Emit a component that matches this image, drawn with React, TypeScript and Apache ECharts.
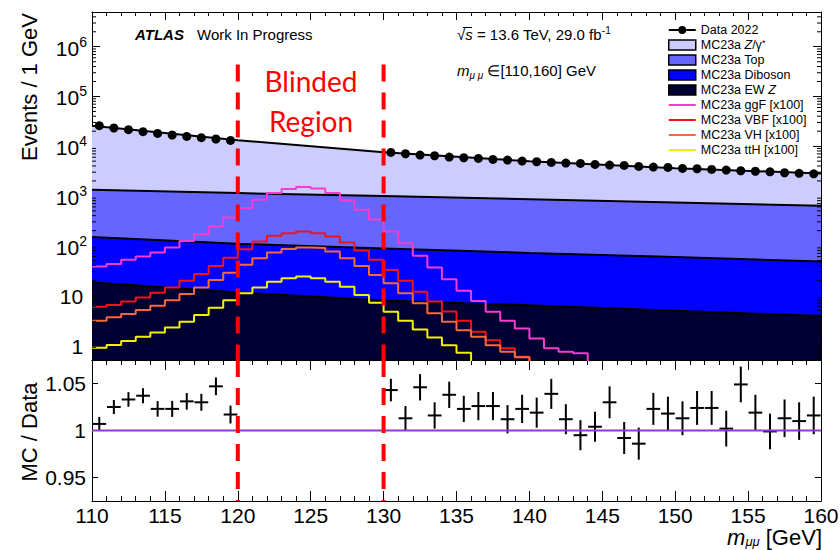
import React, { useEffect, useRef } from 'react';
import * as echarts from 'echarts';

const FONT = '"Liberation Sans", Arial, Helvetica, sans-serif';

// ---- stacked backgrounds (values at mass nodes, events / 1 GeV) ----
const mcMass = [110, 120, 130, 140, 150, 160];
const mcEWZ = [18.4, 11.4, 7.9, 6.3, 4.9, 3.85];
const mcDiboson = [130, 97, 80, 65, 54, 44];
const mcTop = [1180, 1030, 903, 784, 679, 585];
const mcZgamma = [24500, 12040, 6560, 4125, 2865, 2200];

// ---- signals x100, 1 GeV bins starting at 110 GeV ----
const histStart = 110;
const ggF = [37.9, 42.8, 51.7, 60.4, 72.7, 91.7, 124, 169, 242, 367, 570, 840, 1147, 1382, 1518, 1402, 1147, 812, 527, 334, 193, 112, 62.3, 36.1, 21.0, 12.3, 7.72, 4.69, 3.08, 2.16, 1.36, 0.86, 0.73, 0.68, 0.3];
const vbf = [5.9, 6.4, 7.5, 9.0, 11.3, 14.4, 19.6, 26.9, 39.1, 56.7, 84.9, 121, 158, 178, 192, 178, 153, 115, 79.7, 51.7, 32.4, 19.6, 11.8, 7.5, 4.7, 3.08, 1.85, 1.25, 0.86, 0.58, 0.3];
const vh = [3.08, 3.61, 4.21, 5.07, 6.19, 8.0, 10.6, 14.4, 20.3, 28.6, 41.0, 55.9, 72.7, 85.0, 91.7, 89.0, 76.0, 55.9, 39.1, 25.6, 17.4, 11.0, 6.9, 4.35, 2.93, 1.99, 1.46, 0.99, 0.73, 0.565, 0.3];
const tth = [0.88, 1.0, 1.21, 1.46, 1.79, 2.26, 2.93, 4.02, 5.64, 8.0, 11.0, 14.4, 18.8, 22.1, 23.8, 22.1, 18.8, 14.9, 10.2, 7.1, 4.69, 3.08, 2.06, 1.42, 0.99, 0.70, 0.3];

// ---- data (bin centres outside the blinded region) ----
const dataMass = [110.5, 111.5, 112.5, 113.5, 114.5, 115.5, 116.5, 117.5, 118.5, 119.5,
  130.5, 131.5, 132.5, 133.5, 134.5, 135.5, 136.5, 137.5, 138.5, 139.5,
  140.5, 141.5, 142.5, 143.5, 144.5, 145.5, 146.5, 147.5, 148.5, 149.5,
  150.5, 151.5, 152.5, 153.5, 154.5, 155.5, 156.5, 157.5, 158.5, 159.5];
const dataEvents = [25800, 23200, 21450, 19540, 18070, 16790, 15710, 14790, 13930, 13060,
  7480, 7045, 6635, 6425, 6045, 5850, 5665, 5410, 5260, 5025,
  4865, 4710, 4580, 4500, 4290, 4170, 4095, 3910, 3800, 3735,
  3565, 3515, 3405, 3310, 3205, 3130, 3055, 2920, 2850, 2785];
const ratioValues = [1.007, 1.025, 1.033, 1.037, 1.023, 1.023, 1.031, 1.030, 1.047, 1.017,
  1.043, 1.013, 1.046, 1.016, 1.038, 1.023, 1.026, 1.026, 1.012, 1.023,
  1.019, 1.039, 1.012, 0.995, 1.004, 1.030, 0.992, 0.986, 1.023, 1.018,
  1.013, 1.024, 1.024, 1.002, 1.049, 1.019, 0.999, 1.013, 1.010, 1.016];
const ratioErrors = [0.0075, 0.0075, 0.0078, 0.008, 0.0083, 0.0085, 0.0088, 0.009, 0.0095, 0.0095,
  0.012, 0.013, 0.014, 0.014, 0.014, 0.014, 0.015, 0.015, 0.015, 0.015,
  0.016, 0.016, 0.016, 0.016, 0.016, 0.017, 0.017, 0.017, 0.017, 0.018,
  0.018, 0.018, 0.018, 0.019, 0.019, 0.019, 0.019, 0.02, 0.02, 0.02];

const blindEdges = [120, 130];
const xTicks = { min: 110, max: 160, interval: 5 };
const yTop = { min: 0.5, max: 5e6 };
const yRatio = { min: 0.925, max: 1.075 };

const C = {
  zg: '#ccccff', top: '#6666ff', dib: '#0000ff', ewz: '#000033',
  ggf: '#f53cd0', vbf: '#f01414', vh: '#f56a3c', tth: '#f2f200',
  ratio: '#9b30d6', blind: '#ff0000',
};

function buildOption() {
  const cum1 = mcEWZ.slice();
  const cum2 = cum1.map((v, i) => v + mcDiboson[i]);
  const cum3 = cum2.map((v, i) => v + mcTop[i]);
  const cum4 = cum3.map((v, i) => v + mcZgamma[i]);
  const nodes = (arr: number[]) => mcMass.map((m, i) => [m, arr[i]]);
  const steps = (vals: number[]) => {
    const pts = vals.map((v, i) => [histStart + i, v]);
    pts.push([histStart + vals.length, vals[vals.length - 1]]);
    return pts;
  };

  const logMinor: number[] = [];
  for (let e = -1; e <= 6; e++) {
    for (let m = 2; m <= 9; m++) {
      const v = m * Math.pow(10, e);
      if (v > yTop.min && v < yTop.max) logMinor.push(v);
    }
  }

  const line = { color: '#000', width: 1 };
  const xAxisBase = (grid: number, pos: string, labels: boolean, major: number, minor: number) => ({
    type: 'value', gridIndex: grid, position: pos, ...xTicks,
    axisLine: { show: true, onZero: false, lineStyle: line },
    axisTick: { show: true, inside: true, length: major, lineStyle: line },
    minorTick: { show: true, splitNumber: 5, length: minor, lineStyle: line },
    splitLine: { show: false },
    axisLabel: labels ? { show: true, margin: 4, color: '#000', fontFamily: FONT, fontSize: 21, lineHeight: 21 } : { show: false },
  });

  const richLabel = {
    b: { fontSize: 21, lineHeight: 24, verticalAlign: 'bottom', fontFamily: FONT, color: '#000' },
    s: { fontSize: 14, lineHeight: 14, verticalAlign: 'top', fontFamily: FONT, color: '#000' },
    p: { fontSize: 14, fontFamily: FONT },
  };

  const areaSeries = (name: string, arr: number[], color: string) => ({
    name, type: 'line', xAxisIndex: 0, yAxisIndex: 0, data: nodes(arr), symbol: 'none',
    lineStyle: { color: '#000', width: 2 }, itemStyle: { color },
    areaStyle: { color, opacity: 1, origin: 'start' }, silent: true,
  });
  const sigSeries = (name: string, vals: number[], color: string) => ({
    name, type: 'line', xAxisIndex: 0, yAxisIndex: 0, data: steps(vals), step: 'end', symbol: 'none',
    lineStyle: { color, width: 2 }, itemStyle: { color }, silent: true,
  });

  const lineIcon = 'path://M0,0L0.01,0M27,10L26.99,10M0,4L27,4L27,6L0,6Z';
  const dataIcon = 'path://M0,0L0.01,0M27,10L26.99,10M0,4.1L9.6,4.1L9.6,5.9L0,5.9ZM17.4,4.1L27,4.1L27,5.9L17.4,5.9ZM9.6,5A3.9,3.9,0,1,1,17.4,5A3.9,3.9,0,1,1,9.6,5Z';
  const LFS = 12.5;
  const legRich = {
    n: { fontSize: LFS, lineHeight: 14, fontFamily: FONT, color: '#000' },
    i: { fontSize: LFS, lineHeight: 14, fontFamily: FONT, fontStyle: 'italic', color: '#000' },
    sup: { fontSize: 9, lineHeight: 10, verticalAlign: 'top', fontFamily: FONT, color: '#000' },
  };

  const series: any[] = [
    areaSeries('MC23a Z/γ*', cum4, C.zg),
    areaSeries('MC23a Top', cum3, C.top),
    areaSeries('MC23a Diboson', cum2, C.dib),
    areaSeries('MC23a EW Z', cum1, C.ewz),
    sigSeries('MC23a ggF [x100]', ggF, C.ggf),
    sigSeries('MC23a VBF [x100]', vbf, C.vbf),
    sigSeries('MC23a VH [x100]', vh, C.vh),
    sigSeries('MC23a ttH [x100]', tth, C.tth),
    {
      name: 'Data 2022', type: 'scatter', xAxisIndex: 0, yAxisIndex: 0, symbol: 'circle', symbolSize: 9, z: 5,
      itemStyle: { color: '#000', opacity: 1 }, data: dataMass.map((m, i) => [m, dataEvents[i]]), silent: true,
    },
    {
      name: 'logMinorTicks', type: 'custom', xAxisIndex: 0, yAxisIndex: 0, silent: true, z: 6,
      data: logMinor.map((v) => [xTicks.min, v]),
      renderItem: (_p: any, api: any) => {
        const v = api.value(1);
        const l = api.coord([xTicks.min, v]);
        const r = api.coord([xTicks.max, v]);
        return {
          type: 'group', children: [
            { type: 'line', shape: { x1: l[0], y1: l[1], x2: l[0] + 4, y2: l[1] }, style: { stroke: '#000', lineWidth: 1 } },
            { type: 'line', shape: { x1: r[0] - 4, y1: r[1], x2: r[0], y2: r[1] }, style: { stroke: '#000', lineWidth: 1 } },
          ],
        };
      },
    },
    {
      name: 'unity', type: 'line', xAxisIndex: 2, yAxisIndex: 2, symbol: 'none', silent: true,
      data: [[xTicks.min, 1], [xTicks.max, 1]], lineStyle: { color: C.ratio, width: 2 },
    },
    {
      name: 'MC / Data', type: 'custom', xAxisIndex: 2, yAxisIndex: 2, silent: true,
      data: dataMass.map((m, i) => [m, ratioValues[i], ratioErrors[i]]),
      encode: { x: 0, y: 1 },
      renderItem: (_p: any, api: any) => {
        const x = api.value(0), y = api.value(1), e = api.value(2);
        const t = api.coord([x, y + e]);
        const b = api.coord([x, y - e]);
        const l = api.coord([x - 0.47, y]);
        const r = api.coord([x + 0.47, y]);
        const st = { stroke: '#000', lineWidth: 2 };
        return {
          type: 'group', children: [
            { type: 'line', shape: { x1: t[0], y1: t[1], x2: b[0], y2: b[1] }, style: st },
            { type: 'line', shape: { x1: l[0], y1: l[1], x2: r[0], y2: r[1] }, style: st },
          ],
        };
      },
    },
  ];
  blindEdges.forEach((edge) => {
    series.push({
      name: 'blind-top-' + edge, type: 'line', xAxisIndex: 0, yAxisIndex: 0, symbol: 'none', silent: true, z: 10,
      data: [[edge, 4.4e5], [edge, yTop.min]], lineStyle: { color: C.blind, width: 4, type: [17, 11] },
    });
    series.push({
      name: 'blind-ratio-' + edge, type: 'line', xAxisIndex: 2, yAxisIndex: 2, symbol: 'none', silent: true, z: 10,
      data: [[edge, yRatio.max], [edge, yRatio.min]], lineStyle: { color: C.blind, width: 4, type: [17, 11] },
    });
  });

  return {
    animation: false,
    backgroundColor: '#fff',
    textStyle: { fontFamily: FONT },
    grid: [
      { left: 92, right: 19, top: 12, height: 348, containLabel: false, outerBoundsMode: 'none' },
      { left: 92, right: 19, top: 360, height: 141, containLabel: false, outerBoundsMode: 'none' },
    ],
    xAxis: [
      xAxisBase(0, 'bottom', false, 8, 4),
      xAxisBase(0, 'top', false, 8, 4),
      xAxisBase(1, 'bottom', true, 10, 5),
      xAxisBase(1, 'top', false, 10, 5),
    ],
    yAxis: [
      {
        type: 'log', logBase: 10, gridIndex: 0, position: 'left', ...yTop,
        axisLine: { show: true, onZero: false, lineStyle: line },
        axisTick: { show: true, inside: true, length: 8, lineStyle: line },
        minorTick: { show: false }, splitLine: { show: false },
        axisLabel: {
          show: true, margin: 5, color: '#000', fontFamily: FONT, fontSize: 21, rich: richLabel,
          formatter: (v: number) => {
            const lg = Math.log10(v);
            const e = Math.round(lg);
            if (Math.abs(lg - e) > 1e-6) return '';
            if (e === 0) return '{b|1}{p| }';
            if (e === 1) return '{b|10}{p| }';
            return '{b|10}{s|' + e + '}';
          },
        },
      },
      {
        type: 'log', logBase: 10, gridIndex: 0, position: 'right', ...yTop,
        axisLine: { show: true, onZero: false, lineStyle: line },
        axisTick: { show: true, inside: true, length: 8, lineStyle: line },
        minorTick: { show: false }, splitLine: { show: false }, axisLabel: { show: false },
      },
      {
        type: 'value', gridIndex: 1, position: 'left', ...yRatio, splitNumber: 3,
        axisLine: { show: true, onZero: false, lineStyle: line },
        axisTick: { show: true, inside: true, length: 6, lineStyle: line },
        splitLine: { show: false },
        axisLabel: {
          show: true, margin: 6, color: '#000', fontFamily: FONT, fontSize: 21,
          formatter: (v: number) => {
            if (Math.abs(v - 0.95) < 1e-9) return '0.95';
            if (Math.abs(v - 1) < 1e-9) return '1';
            if (Math.abs(v - 1.05) < 1e-9) return '1.05';
            return '';
          },
        },
      },
      {
        type: 'value', gridIndex: 1, position: 'right', ...yRatio, splitNumber: 3,
        axisLine: { show: true, onZero: false, lineStyle: line },
        axisTick: { show: true, inside: true, length: 6, lineStyle: line },
        splitLine: { show: false }, axisLabel: { show: false },
      },
    ],
    legend: {
      orient: 'vertical', left: 668, top: 23, padding: 0, itemWidth: 27, itemHeight: 10, itemGap: 1,
      selectedMode: false,
      textStyle: { fontSize: LFS, lineHeight: 14, color: '#000', fontFamily: FONT, rich: legRich },
      formatter: (name: string) => {
        if (name === 'MC23a Z/γ*') return '{n|MC23a }{i|Z}{n|/γ}{sup|*}';
        if (name === 'MC23a EW Z') return '{n|MC23a EW }{i|Z}';
        return '{n|' + name + '}';
      },
      data: [
        { name: 'Data 2022', icon: dataIcon, itemStyle: { color: '#000', borderWidth: 0 } },
        { name: 'MC23a Z/γ*', icon: 'rect', itemStyle: { color: C.zg, borderColor: '#000', borderWidth: 1.5 } },
        { name: 'MC23a Top', icon: 'rect', itemStyle: { color: C.top, borderColor: '#000', borderWidth: 1.5 } },
        { name: 'MC23a Diboson', icon: 'rect', itemStyle: { color: C.dib, borderColor: '#000', borderWidth: 1.5 } },
        { name: 'MC23a EW Z', icon: 'rect', itemStyle: { color: C.ewz, borderColor: '#000', borderWidth: 1.5 } },
        { name: 'MC23a ggF [x100]', icon: lineIcon, itemStyle: { color: C.ggf, borderWidth: 0 } },
        { name: 'MC23a VBF [x100]', icon: lineIcon, itemStyle: { color: C.vbf, borderWidth: 0 } },
        { name: 'MC23a VH [x100]', icon: lineIcon, itemStyle: { color: C.vh, borderWidth: 0 } },
        { name: 'MC23a ttH [x100]', icon: lineIcon, itemStyle: { color: C.tth, borderWidth: 0 } },
      ],
    },
    graphic: [
      { type: 'text', x: 135, y: 34.5, style: { text: 'ATLAS', fontFamily: FONT, fontSize: 15, fontWeight: 'bold', fontStyle: 'italic', fill: '#000', verticalAlign: 'middle' } },
      { type: 'text', x: 197, y: 34.5, style: { text: 'Work In Progress', fontFamily: FONT, fontSize: 15, fill: '#000', verticalAlign: 'middle' } },
      {
        type: 'text', x: 457, y: 34.5, style: {
          text: '{n|√}{i|s}{n| = 13.6 TeV, 29.0 fb}{sup|-1}', verticalAlign: 'middle',
          rich: {
            n: { fontFamily: FONT, fontSize: 15, lineHeight: 18, fill: '#000' },
            i: { fontFamily: FONT, fontSize: 15, lineHeight: 18, fontStyle: 'italic', fill: '#000' },
            sup: { fontFamily: FONT, fontSize: 10, lineHeight: 10, verticalAlign: 'top', fill: '#000' },
          },
        },
      },
      { type: 'line', shape: { x1: 463, y1: 27.5, x2: 472, y2: 27.5 }, style: { stroke: '#000', lineWidth: 1 } },
      {
        type: 'text', x: 457, y: 70, style: {
          text: '{i|m}{sub|μ μ}{n| ∈[110,160] GeV}', verticalAlign: 'middle',
          rich: {
            n: { fontFamily: FONT, fontSize: 15, lineHeight: 20, verticalAlign: 'middle', fill: '#000' },
            i: { fontFamily: FONT, fontSize: 15, lineHeight: 20, verticalAlign: 'middle', fontStyle: 'italic', fill: '#000' },
            sub: { fontFamily: FONT, fontSize: 10, lineHeight: 10, verticalAlign: 'bottom', fontStyle: 'italic', fill: '#000' },
          },
        },
      },
      { type: 'text', x: 311, y: 101, style: { text: 'Blinded\nRegion', fontFamily: 'Lato, "Open Sans", sans-serif', fontSize: 28, lineHeight: 40, fill: C.blind, align: 'center', verticalAlign: 'middle' } },
      { type: 'text', x: 29, y: 13, rotation: Math.PI / 2, style: { text: 'Events / 1 GeV', fontFamily: FONT, fontSize: 22, fill: '#000', align: 'right', verticalAlign: 'middle' } },
      { type: 'text', x: 29, y: 432, rotation: Math.PI / 2, style: { text: 'MC / Data', fontFamily: FONT, fontSize: 22, fill: '#000', align: 'center', verticalAlign: 'middle' } },
      {
        type: 'text', x: 822, y: 537, style: {
          text: '{m|m}{sub|μμ}{n| [GeV]}', align: 'right', verticalAlign: 'middle',
          rich: {
            m: { fontFamily: FONT, fontSize: 22, lineHeight: 22, verticalAlign: 'middle', fontStyle: 'italic', fill: '#000' },
            sub: { fontFamily: FONT, fontSize: 13, lineHeight: 10, verticalAlign: 'bottom', fontStyle: 'italic', fill: '#000' },
            n: { fontFamily: FONT, fontSize: 22, lineHeight: 22, verticalAlign: 'middle', fill: '#000' },
          },
        },
      },
    ],
    series,
  };
}

export default function App() {
  const ref = useRef<HTMLDivElement>(null);
  useEffect(() => {
    document.body.style.margin = '0';
    const chart = echarts.init(ref.current as HTMLDivElement, null, { renderer: 'svg' });
    chart.setOption(buildOption() as any);
    return () => chart.dispose();
  }, []);
  return <div ref={ref} style={{ width: 840, height: 550 }} />;
}
